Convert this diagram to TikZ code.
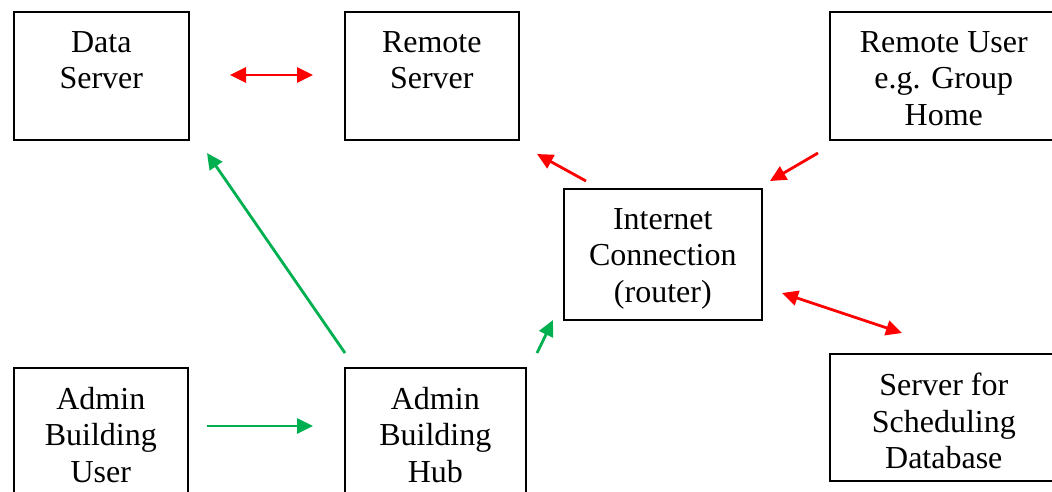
\documentclass[tikz,border=0pt]{standalone}
\usepackage{fontspec}
\setmainfont{Liberation Serif}
\usetikzlibrary{arrows.meta}
\definecolor{arrred}{RGB}{255,0,0}
\definecolor{arrgreen}{RGB}{0,176,80}
\begin{document}
\begin{tikzpicture}[x=1pt,y=-1pt,
  box/.style={draw=black, line width=1.6pt, inner sep=0pt, anchor=north west},
  lbl/.style={font=\fontsize{32}{36.5}\selectfont, align=center, inner sep=0pt, below=20pt},
  redarr/.style={draw=arrred, line width=2.8pt, -{Triangle[length=16pt,width=15pt]}},
  redarr2/.style={draw=arrred, line width=2.8pt, {Triangle[length=16pt,width=15pt]}-{Triangle[length=16pt,width=15pt]}},
  greenarr/.style={draw=arrgreen, line width=2.8pt, -{Triangle[length=16pt,width=15pt]}}
]
\useasboundingbox (0,0) rectangle (1052,491);
\clip (0,0) rectangle (1052,491);

% boxes
\node[box, minimum width=175pt, minimum height=128pt] (ds) at (13,11) {};
\node[box, minimum width=174pt, minimum height=128pt] (rs) at (344,11) {};
\node[box, minimum width=228pt, minimum height=128pt] (ru) at (829,11) {};
\node[box, minimum width=198pt, minimum height=131pt] (ic) at (563,188) {};
\node[box, minimum width=228pt, minimum height=127pt] (sd) at (829,353) {};
\node[box, minimum width=174pt, minimum height=140pt] (au) at (13,367) {};
\node[box, minimum width=181pt, minimum height=140pt] (ah) at (344,367) {};

% labels
\node[lbl] (dst) at (ds.north) {Data\\Server};
\node[lbl] (rst) at (rs.north) {Remote\\Server};
\node[lbl] (rut) at (ru.north) {Remote User\\e.g. Group\\Home};
\node[lbl] (ict) at (ic.north) {Internet\\Connection\\(router)};
\node[lbl] (sdt) at (sd.north) {Server for\\Scheduling\\Database};
\node[lbl] (aut) at (au.north) {Admin\\Building\\User};
\node[lbl] (aht) at (ah.north) {Admin\\Building\\Hub};

% connector ends
\coordinate (r1a) at (230,75);
\coordinate (r1b) at (313,75);
\coordinate (g1a) at (345,353);
\coordinate (g1b) at (207,153);
\coordinate (g2a) at (537,353);
\coordinate (g2b) at (553,320);
\coordinate (g3a) at (207,426);
\coordinate (g3b) at (313,426);
\coordinate (r2a) at (586,181);
\coordinate (r2b) at (537,154);
\coordinate (r3a) at (818,153);
\coordinate (r3b) at (770,181);
\coordinate (r4a) at (782,293);
\coordinate (r4b) at (902,333);

% connectors
\draw[redarr2] (r1a) -- (r1b);
\draw[greenarr] (g1a) -- (g1b);
\draw[greenarr] (g2a) -- (g2b);
\draw[greenarr] (g3a) -- (g3b);
\draw[redarr] (r2a) -- (r2b);
\draw[redarr] (r3a) -- (r3b);
\draw[redarr2] (r4a) -- (r4b);
\end{tikzpicture}
\end{document}
